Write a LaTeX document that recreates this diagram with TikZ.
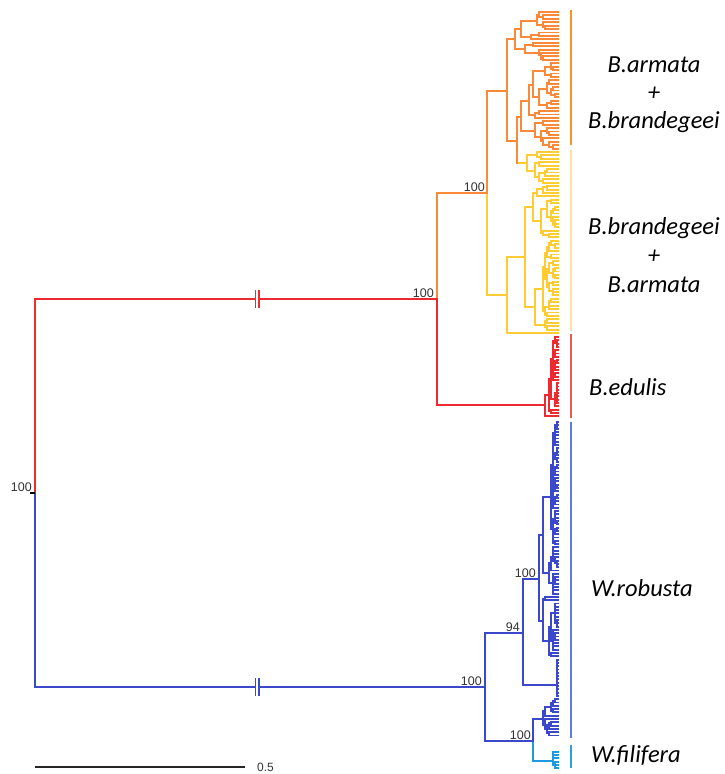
\documentclass[tikz,border=0pt]{standalone}
\usepackage{fontspec}
\setmainfont{Carlito}
\newfontfamily\arialf{Liberation Sans}
\definecolor{orC}{HTML}{FA8A3A}
\definecolor{yeC}{HTML}{FFCC33}
\definecolor{reC}{HTML}{EC2A30}
\definecolor{blC}{HTML}{3C48CC}
\definecolor{cyC}{HTML}{1E9BE0}
\definecolor{orBar}{HTML}{F7931E}
\definecolor{yeBar}{HTML}{FFE0A0}
\definecolor{reBar}{HTML}{F05A55}
\definecolor{blBar}{HTML}{5B7BE8}
\definecolor{cyBar}{HTML}{2AA0E6}
\definecolor{numC}{HTML}{333333}
\newcount\rs
\global\rs=12345
\newcommand\nextrand{\global\rs=\numexpr\rs*1103+12345\relax\global\rs=\numexpr\rs-((\rs-16374)/32749)*32749\relax\xdef\rf{\the\numexpr\rs*1000/32749\relax}}
\def\tipx{558}
\def\gretY{0}
\def\cc{black}
\newcommand\inode[4]{%
 \begingroup
 #3\let\yA\gretY
 #4\let\yB\gretY
 \draw[br, draw=\cc] (#2,\yA) -- (#2,\yB);
 \pgfmathsetmacro\yn{2*floor((\yA+\yB)/4)+1}%
 \draw[br, draw=\cc] (#1,\yn) -- (#2,\yn);
 \xdef\gretY{\yn}%
 \endgroup}
\newcommand\clade[3]{%
 \begingroup
 \ifnum#2=#3\relax
   \pgfmathsetmacro\yy{\yzero+#2*\ysp}%
   \draw[br, draw=\cc] (#1,\yy) -- (\tipx,\yy);
   \xdef\gretY{\yy}%
 \else
   \nextrand
   \pgfmathsetmacro\nx{2*floor((#1+(\tipx-#1)*(0.08+0.4*\rf/1000))/2)+1}%
   \nextrand
   \pgfmathtruncatemacro\mm{#2+floor((#3-#2)*(0.1+0.8*\rf/1000))}%
   \pgfmathtruncatemacro\mmp{\mm+1}%
   \edef\tmp{\noexpand\inode{#1}{\nx}{\noexpand\clade{\nx}{#2}{\mm}}{\noexpand\clade{\nx}{\mmp}{#3}}}%
   \tmp
 \fi
 \endgroup}
\tikzset{
  br/.style={line width=1.9pt, line cap=rect},
  numlab/.style={font=\arialf\fontsize{12.5}{14}\selectfont, text=numC, inner sep=1pt, anchor=south east},
  cladelab/.style={font=\fontsize{24.5}{28}\selectfont\itshape, text=black, inner sep=0pt},
  bar/.style={line width=2pt, line cap=butt},
  brk/.style={line width=1.9pt, line cap=butt},
}
\begin{document}
\begin{tikzpicture}[x=1pt,y=-1pt]
\useasboundingbox (0,0) rectangle (724,774);
% ---------- B.armata / B.brandegeei ----------
\def\yzero{12}\def\ysp{3.415}
\def\cc{orC}
\inode{487}{507}{\inode{507}{515}{\clade{515}{0}{8}}{\clade{515}{9}{14}}}{\inode{507}{517}{\clade{517}{15}{40}}{\begingroup\def\cc{yeC}\clade{517}{41}{50}\endgroup}}
\global\let\yOr\gretY
\def\cc{yeC}
\inode{487}{507}{\inode{507}{525}{\clade{525}{51}{66}}{\clade{525}{67}{93}}}{\clade{507}{94}{94}}
\global\let\yYe\gretY
\pgfmathsetmacro\yBA{2*floor((\yOr+\yYe)/4)+1}
\draw[br, orC] (487,\yOr) -- (487,\yBA);
\draw[br, yeC] (487,\yBA) -- (487,\yYe);
\draw[br, orC] (437,\yBA) -- (487,\yBA);
% ---------- B.edulis ----------
\def\yzero{337}\def\ysp{3.3}
\def\cc{reC}
\inode{437}{545}{\inode{545}{549}{\clade{549}{0}{21}}{\clade{549}{22}{23}}}{\clade{545}{24}{24}}
\global\let\yEd\gretY
\pgfmathsetmacro\yN{2*floor((\yBA+\yEd)/4)+1}
\draw[br, orC] (437,\yBA) -- (437,\yN);
\draw[br, reC] (437,\yN) -- (437,\yEd);
% ---------- W.robusta ----------
\def\yzero{422}\def\ysp{3.3}
\def\cc{blC}
\inode{523}{539}{\clade{539}{0}{52}}{\clade{539}{53}{71}}
\global\let\yQ\gretY
\inode{523}{557}{\clade{557}{72}{82}}{\clade{557}{83}{83}}
\global\let\yR\gretY
\inode{533}{543}{\clade{543}{84}{89}}{\clade{543}{90}{95}}
\global\let\yS\gretY
\pgfmathsetmacro\yP{2*floor((\yQ+\yR)/4)+1}
\draw[br, blC] (523,\yQ) -- (523,\yR);
\draw[br, blC] (485,\yP) -- (523,\yP);
% ---------- W.filifera ----------
\def\yzero{752}\def\ysp{3.2}
\def\cc{cyC}
\inode{533}{553}{\clade{553}{0}{2}}{\clade{553}{3}{5}}
\global\let\yT\gretY
\pgfmathsetmacro\yU{2*floor((\yS+\yT)/4)+1}
\draw[br, blC] (533,\yS) -- (533,\yU);
\draw[br, cyC] (533,\yU) -- (533,\yT);
\draw[br, blC] (485,\yU) -- (533,\yU);
\pgfmathsetmacro\yV{2*floor((\yP+\yU)/4)+1}
\draw[br, blC] (485,\yP) -- (485,\yU);
% ---------- root ----------
\pgfmathsetmacro\yRoot{2*floor((\yN+\yV)/4)+1}
\draw[br, reC] (35,\yN) -- (35,\yRoot);
\draw[br, blC] (35,\yRoot) -- (35,\yV);
\draw[br, reC] (35,\yN) -- (254.5,\yN);
\draw[br, reC] (260,\yN) -- (437,\yN);
\draw[brk, reC] (255.5,\yN-9) -- (255.5,\yN+9);
\draw[brk, reC] (259,\yN-9) -- (259,\yN+9);
\draw[br, blC] (35,\yV) -- (254.5,\yV);
\draw[br, blC] (260,\yV) -- (485,\yV);
\draw[brk, blC] (255.5,\yV-9) -- (255.5,\yV+9);
\draw[brk, blC] (259,\yV-9) -- (259,\yV+9);
\draw[black, line width=1.4pt, line cap=butt] (30,\yRoot) -- (35,\yRoot);
% ---------- support values ----------
\node[numlab] (s0) at (33,\yRoot) {100};
\node[numlab] (s1) at (435,\yN) {100};
\node[numlab] (s2) at (486,\yBA) {100};
\node[numlab] (s3) at (483,\yV) {100};
\node[numlab] (s4) at (521,\yP) {94};
\node[numlab] (s5) at (537,\yQ) {100};
\node[numlab] (s6) at (532,\yU) {100};
% ---------- clade bars ----------
\draw[bar, orBar] (571,10) -- (571,145);
\draw[bar, yeBar] (571,150) -- (571,331);
\draw[bar, reBar] (571,334) -- (571,418);
\draw[bar, blBar] (571,422) -- (571,738);
\draw[bar, cyBar] (571,745) -- (571,768);
% ---------- clade labels ----------
\node[cladelab] (l1) at (654,65) {B.armata};
\node[cladelab] (l2) at (654,94) {+};
\node[cladelab] (l3) at (654,122) {B.brandegeei};
\node[cladelab] (l4) at (654,228) {B.brandegeei};
\node[cladelab] (l5) at (654,257) {+};
\node[cladelab] (l6) at (654,285) {B.armata};
\node[cladelab, anchor=west] (l7) at (589,387) {B.edulis};
\node[cladelab, anchor=west] (l8) at (591,588) {W.robusta};
\node[cladelab, anchor=west] (l9) at (591,755) {W.filifera};
% ---------- scale bar ----------
\coordinate (sbA) at (35,767);
\coordinate (sbB) at (245,767);
\draw[black!85, line width=2pt, line cap=butt] (sbA) -- (sbB);
\node[font=\arialf\fontsize{12}{14}\selectfont, text=numC, anchor=base west, inner sep=0pt] (sbl) at (257,771.5) {0.5};
\end{tikzpicture}
\end{document}
